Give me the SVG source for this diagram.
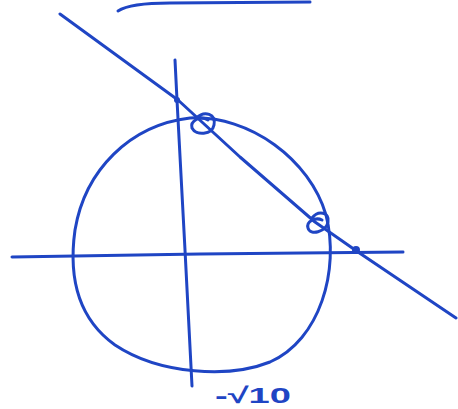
<svg xmlns="http://www.w3.org/2000/svg" width="458" height="409" viewBox="0 0 458 409">
<style>
.s{fill:none;stroke:#1f45c4;stroke-width:3;stroke-linecap:round;stroke-linejoin:round}
.t{font-family:"Liberation Sans",Arial,sans-serif;font-size:22px;font-weight:bold;fill:#1f45c4}
</style>
<rect width="458" height="409" fill="#ffffff"/>
<path class="s" d="M118,11 Q130,3 170,3 L310,2"/>
<path class="s" d="M60,14 L178,100 L240,157 L315,222 L358,252 L456,318"/>
<path class="s" d="M175,60 L177,100 L185,250 L192,386"/>
<path class="s" d="M12,257 L200,254 L403,252"/>
<path class="s" d="M190,118 C250,115 310,160 326,215 C340,270 320,340 270,362 C230,378 160,375 115,345 C80,320 68,280 75,230 C85,170 130,125 190,118 Z"/>
<path class="s" d="M196,118 C205,110 216,114 214,125 C212,135 196,136 192,128 C190,121 200,115 208,120"/>
<path class="s" d="M312,218 C318,210 330,212 328,222 C326,232 310,236 308,228 C306,221 316,217 322,220"/>
<circle cx="177" cy="100" r="3" fill="#1f45c4"/>
<circle cx="356" cy="250" r="4" fill="#1f45c4"/>
<text class="t" x="215" y="403" textLength="76" lengthAdjust="spacingAndGlyphs">-√10</text>
</svg>
